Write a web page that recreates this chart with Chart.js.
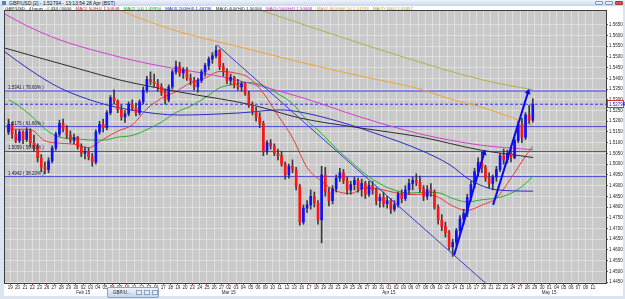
<!DOCTYPE html>
<html lang="en">

<head>
    <meta charset="UTF-8">
    <title>GBP/USD 4 hours</title>
    <script src="https://cdn.jsdelivr.net/npm/chart.js@4"></script>
    <style>
        html, body { margin: 0; padding: 0; }
        body { width: 625px; height: 299px; overflow: hidden; position: relative; background: #dbe5f1; font-family: "Liberation Sans", Arial, sans-serif; }
        #sheet { position: absolute; left: 4px; top: 6px; width: 619px; height: 290px; background: #fff; }
        #chart { position: absolute; left: 0; top: 0; }
        #titlebar { position: absolute; left: 0; top: 0; width: 625px; height: 6px; background: linear-gradient(#eef3fa, #c8d7ea); font-size: 5px; line-height: 6px; color: #1b1b1b; white-space: nowrap; }
        #titlebar .ico { display: inline-block; width: 4px; height: 4px; margin: 1px 3px 0 2px; background: #5b7fb8; vertical-align: top; }
        #titlebar .btn { position: absolute; top: 1px; width: 8px; height: 4px; border: 1px solid #8097b8; border-radius: 1px; background: #e9eff8; box-sizing: border-box; }
        #legend { position: absolute; left: 4px; top: 6px; width: 619px; height: 5px; font-size: 4.4px; line-height: 5px; white-space: nowrap; overflow: hidden; color: #111; }
        #legend span { margin-left: 3px; }
        #tab { position: absolute; left: 107px; top: 287px; width: 52px; height: 11px; box-sizing: border-box; border: 1px solid #8da3c3; border-radius: 2px; background: linear-gradient(#eef3fa, #c6d5ea); font-size: 4.5px; line-height: 9px; color: #222; white-space: nowrap; }
        #tab .mini { position: absolute; top: 2px; width: 6px; height: 5px; border: 1px solid #8da3c3; background: #e6edf7; box-sizing: border-box; }
    </style>
</head>

<body>
    <div id="sheet"></div>
    <canvas id="chart" width="625" height="299"></canvas>
    <div id="titlebar"><span class="ico"></span>GBP/USD [2] - 1.52794 - 13:13:54 28 Apr (BST)
        <span class="btn" style="left:595px"></span>
        <span class="btn" style="left:605px"></span>
        <span class="btn" style="left:615px;background:#d9534f;border-color:#a33"></span>
    </div>
    <div id="legend">&nbsp;GBP/USD , 4 hours : # 434 / 6000
        <span style="color:#e02020">MA(1) 50(H4) 1.50848</span>
        <span style="color:#1f9f1f">MA(2) 100 1.49950</span>
        <span style="color:#2020c0">MA(3) 200(H4) 1.48736</span>
        <span style="color:#303030">MA(4) 400(H4) 1.50306</span>
        <span style="color:#c030c0">MA(5) 500(H4) 1.50668</span>
        <span style="color:#e89a20">MA(6) 800(H4) 10 1.51793</span>
        <span style="color:#a0a030">MA(7) 1600 1.53457</span>
    </div>
    <div id="tab">&nbsp;&nbsp;&nbsp;&nbsp;GBP/U...
        <span class="mini" style="left:28px"></span>
        <span class="mini" style="left:36px"></span>
        <span class="mini" style="left:44px"></span>
    </div>

    <script>
        // Axis labels
        const dayLabels = [
            '19', '20', '21', '22', '23', '26', '27', '28', '29', '30',
            '02', '03', '04', '05', '06', '09', '10', '11', '12', '13', '16', '17', '18', '19', '20', '23', '24', '25', '26', '27',
            '02', '03', '04', '05', '06', '09', '10', '11', '12', '13', '16', '17', '18', '19', '20', '23', '24', '25', '26', '27', '30', '31',
            '01', '02', '03', '06', '07', '08', '09', '10', '13', '14', '15', '16', '17', '20', '21', '22', '23', '24', '27', '28', '29', '30',
            '01', '04', '05', '06', '07', '08', '11'
        ];
        const monthNames = ['Feb 15', 'Mar 15', 'Apr 15', 'May 15'];
        const monthStarts = [10, 30, 52, 74];
        const priceTicks = [
            1.445, 1.450, 1.455, 1.460, 1.465, 1.470, 1.475, 1.480, 1.485, 1.490, 1.495, 1.500, 1.505,
            1.510, 1.515, 1.520, 1.525, 1.530, 1.535, 1.540, 1.545, 1.550, 1.555, 1.560, 1.565
        ];

        // Visible window (trading days, 0 = Mon 19 Jan) and price range
        const viewFirstDay = -0.73;
        const viewLastDay = 81.8;
        const priceLow = 1.4446;
        const priceHigh = 1.5714;

        // Candles, two per trading day, first one is the Fri 16 Jan afternoon
        const firstBar = -0.25;
        const opens = [
            1.5150, 1.5185, 1.5140, 1.5110, 1.5150, 1.5115, 1.5155, 1.5100, 1.5080, 1.5030, 1.4985, 1.4975, 1.5015,
            1.5075, 1.5140, 1.5190, 1.5165, 1.5135, 1.5110, 1.5125, 1.5080, 1.5050, 1.5060, 1.5035, 1.5010,
            1.5150, 1.5185, 1.5170, 1.5240, 1.5310, 1.5295, 1.5255, 1.5220, 1.5235, 1.5280, 1.5260, 1.5240,
            1.5290, 1.5345, 1.5395, 1.5385, 1.5375, 1.5360, 1.5335, 1.5300, 1.5360, 1.5430, 1.5455, 1.5425,
            1.5440, 1.5400, 1.5390, 1.5360, 1.5390, 1.5430, 1.5460, 1.5490, 1.5505, 1.5530, 1.5455, 1.5430,
            1.5390, 1.5405, 1.5370, 1.5360, 1.5375, 1.5330, 1.5275, 1.5245, 1.5220, 1.5190, 1.5060, 1.5100,
            1.5085, 1.5050, 1.5040, 1.5000, 1.4950, 1.4990, 1.4975, 1.4895, 1.4730, 1.4795, 1.4810, 1.4850,
            1.4820, 1.4740, 1.4950, 1.4870, 1.4830, 1.4885, 1.4935, 1.4960, 1.4925, 1.4880, 1.4905, 1.4925,
            1.4885, 1.4910, 1.4860, 1.4900, 1.4880, 1.4830, 1.4845, 1.4815, 1.4830, 1.4790, 1.4810, 1.4860,
            1.4840, 1.4880, 1.4910, 1.4925, 1.4915, 1.4885, 1.4850, 1.4880, 1.4870, 1.4800, 1.4740, 1.4710,
            1.4680, 1.4615, 1.4635, 1.4690, 1.4745, 1.4770, 1.4845, 1.4905, 1.4965, 1.5010, 1.4985, 1.4935,
            1.4910, 1.4940, 1.4975, 1.5040, 1.5020, 1.5050, 1.5030, 1.5110, 1.5185, 1.5125, 1.5230, 1.5205
        ];
        const highs = [
            1.5210, 1.5195, 1.5160, 1.5160, 1.5155, 1.5170, 1.5165, 1.5135, 1.5095, 1.5045, 1.5010, 1.5030, 1.5085,
            1.5150, 1.5205, 1.5210, 1.5180, 1.5155, 1.5140, 1.5130, 1.5095, 1.5080, 1.5075, 1.5050, 1.5160,
            1.5200, 1.5210, 1.5250, 1.5320, 1.5346, 1.5300, 1.5275, 1.5250, 1.5290, 1.5300, 1.5285, 1.5300,
            1.5360, 1.5410, 1.5430, 1.5420, 1.5395, 1.5375, 1.5350, 1.5370, 1.5440, 1.5480, 1.5475, 1.5450,
            1.5450, 1.5420, 1.5405, 1.5400, 1.5440, 1.5470, 1.5500, 1.5520, 1.5552, 1.5535, 1.5470, 1.5445,
            1.5420, 1.5410, 1.5395, 1.5385, 1.5380, 1.5340, 1.5290, 1.5265, 1.5240, 1.5200, 1.5110, 1.5115,
            1.5095, 1.5070, 1.5060, 1.5010, 1.5000, 1.5020, 1.4985, 1.4905, 1.4810, 1.4830, 1.4880, 1.4870,
            1.4830, 1.4990, 1.4985, 1.4890, 1.4900, 1.4950, 1.4980, 1.4975, 1.4940, 1.4920, 1.4940, 1.4935,
            1.4930, 1.4920, 1.4920, 1.4920, 1.4890, 1.4860, 1.4870, 1.4850, 1.4840, 1.4830, 1.4870, 1.4880,
            1.4900, 1.4930, 1.4940, 1.4955, 1.4945, 1.4900, 1.4900, 1.4910, 1.4880, 1.4810, 1.4765, 1.4730,
            1.4690, 1.4650, 1.4700, 1.4760, 1.4790, 1.4860, 1.4920, 1.4980, 1.5030, 1.5055, 1.4995, 1.4960,
            1.4950, 1.4990, 1.5050, 1.5070, 1.5065, 1.5080, 1.5120, 1.5200, 1.5215, 1.5240, 1.5275, 1.5305
        ];
        const lows = [
            1.5138, 1.5120, 1.5100, 1.5100, 1.5095, 1.5105, 1.5080, 1.5060, 1.5010, 1.4965, 1.4955, 1.4960, 1.5005,
            1.5065, 1.5130, 1.5150, 1.5120, 1.5100, 1.5095, 1.5070, 1.5035, 1.5025, 1.5020, 1.4990, 1.5000,
            1.5140, 1.5150, 1.5160, 1.5230, 1.5280, 1.5240, 1.5205, 1.5195, 1.5225, 1.5250, 1.5225, 1.5230,
            1.5280, 1.5335, 1.5370, 1.5360, 1.5340, 1.5320, 1.5280, 1.5290, 1.5350, 1.5420, 1.5410, 1.5400,
            1.5390, 1.5370, 1.5345, 1.5336, 1.5380, 1.5410, 1.5440, 1.5470, 1.5495, 1.5440, 1.5410, 1.5375,
            1.5370, 1.5355, 1.5345, 1.5340, 1.5320, 1.5265, 1.5230, 1.5200, 1.5170, 1.5040, 1.5045, 1.5070,
            1.5040, 1.5020, 1.4990, 1.4930, 1.4935, 1.4960, 1.4880, 1.4715, 1.4720, 1.4775, 1.4790, 1.4800,
            1.4720, 1.4633, 1.4850, 1.4805, 1.4815, 1.4870, 1.4920, 1.4910, 1.4860, 1.4860, 1.4880, 1.4870,
            1.4850, 1.4840, 1.4850, 1.4860, 1.4810, 1.4800, 1.4800, 1.4795, 1.4770, 1.4780, 1.4800, 1.4820,
            1.4830, 1.4860, 1.4880, 1.4900, 1.4870, 1.4830, 1.4835, 1.4850, 1.4790, 1.4720, 1.4690, 1.4660,
            1.4600, 1.4570, 1.4620, 1.4675, 1.4720, 1.4755, 1.4830, 1.4890, 1.4945, 1.4960, 1.4920, 1.4890,
            1.4880, 1.4920, 1.4965, 1.5000, 1.5005, 1.5010, 1.5025, 1.5100, 1.5100, 1.5115, 1.5190, 1.5195
        ];
        const closes = [
            1.5185, 1.5140, 1.5110, 1.5150, 1.5115, 1.5155, 1.5100, 1.5080, 1.5030, 1.4985, 1.4975, 1.5015, 1.5075,
            1.5140, 1.5190, 1.5165, 1.5135, 1.5110, 1.5125, 1.5080, 1.5050, 1.5060, 1.5035, 1.5010, 1.5150,
            1.5185, 1.5170, 1.5240, 1.5310, 1.5295, 1.5255, 1.5220, 1.5235, 1.5280, 1.5260, 1.5240, 1.5290,
            1.5345, 1.5395, 1.5385, 1.5375, 1.5360, 1.5335, 1.5300, 1.5360, 1.5430, 1.5455, 1.5425, 1.5440,
            1.5400, 1.5390, 1.5360, 1.5390, 1.5430, 1.5460, 1.5490, 1.5505, 1.5530, 1.5455, 1.5430, 1.5390,
            1.5405, 1.5370, 1.5360, 1.5375, 1.5330, 1.5275, 1.5245, 1.5220, 1.5190, 1.5060, 1.5100, 1.5085,
            1.5050, 1.5040, 1.5000, 1.4950, 1.4990, 1.4975, 1.4895, 1.4730, 1.4795, 1.4810, 1.4850, 1.4820,
            1.4740, 1.4950, 1.4870, 1.4830, 1.4885, 1.4935, 1.4960, 1.4925, 1.4880, 1.4905, 1.4925, 1.4885,
            1.4910, 1.4860, 1.4900, 1.4880, 1.4830, 1.4845, 1.4815, 1.4830, 1.4790, 1.4810, 1.4860, 1.4840,
            1.4880, 1.4910, 1.4925, 1.4915, 1.4885, 1.4850, 1.4880, 1.4870, 1.4800, 1.4740, 1.4710, 1.4680,
            1.4615, 1.4635, 1.4690, 1.4745, 1.4770, 1.4845, 1.4905, 1.4965, 1.5010, 1.4985, 1.4935, 1.4910,
            1.4940, 1.4975, 1.5040, 1.5020, 1.5050, 1.5030, 1.5110, 1.5185, 1.5125, 1.5230, 1.5205, 1.52794
        ];
        const lastPrice = 1.52794;

        // Moving averages [day, price]
        const maRed = [
            [-0.25, 1.5165], [0.75, 1.5163], [2.75, 1.5161], [4.75, 1.5109], [6.75, 1.5098], [8.75, 1.5093],
            [10.75, 1.5077], [12.75, 1.5116], [14.75, 1.5154], [16.75, 1.5183], [18.75, 1.5258], [20.75, 1.5307],
            [22.75, 1.5338], [24.75, 1.5380], [26.75, 1.5401], [28.75, 1.5432], [30.75, 1.5426], [32.75, 1.5403],
            [34.75, 1.5331], [36.75, 1.5227], [38.75, 1.5123], [40.75, 1.4984], [42.75, 1.4920], [44.75, 1.4875],
            [46.75, 1.4863], [48.75, 1.4889], [50.75, 1.4883], [52.75, 1.4868], [54.75, 1.4858], [56.75, 1.4860],
            [58.75, 1.4846], [60.75, 1.4805], [62.75, 1.4785], [64.75, 1.4809], [66.75, 1.4843], [68.75, 1.4934],
            [70.75, 1.5038], [71.75, 1.5082]
        ];
        const maGreen = [
            [-0.25, 1.5300], [0.75, 1.5281], [2.75, 1.5229], [4.75, 1.5164], [6.75, 1.5126], [8.75, 1.5119],
            [10.75, 1.5113], [12.75, 1.5112], [14.75, 1.5126], [16.75, 1.5134], [18.75, 1.5161], [20.75, 1.5196],
            [22.75, 1.5241], [24.75, 1.5270], [26.75, 1.5310], [28.75, 1.5356], [30.75, 1.5372], [32.75, 1.5381],
            [34.75, 1.5366], [36.75, 1.5328], [38.75, 1.5282], [40.75, 1.5203], [42.75, 1.5143], [44.75, 1.5073],
            [46.75, 1.5013], [48.75, 1.4954], [50.75, 1.4909], [52.75, 1.4879], [54.75, 1.4865], [56.75, 1.4869],
            [58.75, 1.4867], [60.75, 1.4840], [62.75, 1.4824], [64.75, 1.4834], [66.75, 1.4842], [68.75, 1.4864],
            [70.75, 1.4909], [71.75, 1.4945]
        ];
        const maBlue = [
            [-0.73, 1.5523], [2.71, 1.5439], [6.83, 1.5355], [12.32, 1.5285], [16.44, 1.5253], [23.31, 1.5229],
            [31.55, 1.5239], [37.05, 1.5253], [39.79, 1.5243], [45.29, 1.5197], [50.78, 1.5136], [56.28, 1.5066],
            [60.4, 1.4996], [63.15, 1.4926], [66.85, 1.4880], [71.8, 1.4874]
        ];
        const maBlack = [
            [-0.73, 1.5541], [4.08, 1.5495], [9.99, 1.5439], [15.07, 1.5392], [23.31, 1.5336], [33.2, 1.5276],
            [39.79, 1.5215], [48.04, 1.5169], [56.28, 1.5127], [64.52, 1.5066], [71.8, 1.5031]
        ];
        const maMagenta = [
            [-0.73, 1.5700], [2.02, 1.5649], [6.83, 1.5579], [12.32, 1.5523], [19.19, 1.5467], [29.22, 1.5406],
            [39.79, 1.5313], [48.04, 1.5220], [56.28, 1.5141], [64.52, 1.5089], [71.8, 1.5067]
        ];
        const maOrange = [
            [13.5, 1.5745], [15.07, 1.5718], [19.19, 1.5663], [23.31, 1.5616], [31.55, 1.5546], [39.79, 1.5476],
            [48.04, 1.5411], [56.28, 1.5350], [59.99, 1.5308], [65.89, 1.5253], [71.8, 1.5179]
        ];
        const maOlive = [
            [31.5, 1.5750], [34.7, 1.5714], [42.54, 1.5625], [53.53, 1.5504], [64.93, 1.5392], [71.8, 1.5346]
        ];

        // Fibonacci retracement of the Feb high / Apr low swing
        const fibRatios = [78.6, 61.8, 50.0, 38.2];
        const fibLevels = [1.5341, 1.5175, 1.5059, 1.4942];

        // Drawn lines [day, price]
        const trendFromTop = [[28.4, 1.5555], [66.0, 1.4423]];
        const arrowOne = [[60.95, 1.4577], [65.07, 1.5052]];
        const arrowTwo = [[66.3, 1.4810], [71.1, 1.5336]];

        // Build datasets
        const toPoints = pairs => pairs.map(([x, y]) => ({ x: x, y: y }));
        const candleX = opens.map((o, i) => firstBar + i * 0.5);
        const bodies = opens.map((o, i) => ({ x: candleX[i], y: [o, closes[i]] }));
        const wicks = opens.map((o, i) => ({ x: candleX[i], y: [lows[i], highs[i]] }));

        function maLine(pairs, color) {
            return {
                type: 'line', data: toPoints(pairs), borderColor: color, borderWidth: 1,
                pointRadius: 0, cubicInterpolationMode: 'monotone', order: 40
            };
        }

        function arrowAngle(ctx) {
            const pts = ctx.dataset.data;
            const sx = ctx.chart.scales.x;
            const sy = ctx.chart.scales.y;
            const dx = sx.getPixelForValue(pts[1].x) - sx.getPixelForValue(pts[0].x);
            const dy = sy.getPixelForValue(pts[1].y) - sy.getPixelForValue(pts[0].y);
            return Math.atan2(dx, -dy) * 180 / Math.PI;
        }

        function arrowLine(pairs) {
            return {
                type: 'line', data: toPoints(pairs), borderColor: '#0a0aee', backgroundColor: '#0a0aee',
                borderWidth: 2, pointStyle: 'triangle', pointRadius: ctx => ctx.dataIndex === 1 ? 3.5 : 0,
                pointRotation: arrowAngle, pointBorderWidth: 0, order: 0
            };
        }

        const fibSets = fibLevels.map((lvl, i) => ({
            type: 'line',
            data: [{ x: viewFirstDay, y: lvl }, { x: viewLastDay, y: lvl }],
            borderColor: i === 0 ? '#8585dc' : '#4c4cd8',
            borderWidth: i === 0 ? 2 : 1,
            pointRadius: 0, order: 50
        }));

        // Chart background, frame, fib captions and last price box
        const chartDecor = {
            id: 'chartDecor',
            beforeDraw(chart) {
                const { ctx, chartArea: a } = chart;
                ctx.save();
                ctx.fillStyle = '#c9c9c9';
                ctx.fillRect(a.left, a.top, a.right - a.left, a.bottom - a.top);
                ctx.restore();
            },
            afterDatasetsDraw(chart) {
                const { ctx, chartArea: a, scales } = chart;
                ctx.save();
                ctx.font = '4.5px "Liberation Sans", Arial, sans-serif';
                ctx.fillStyle = '#15153a';
                ctx.textBaseline = 'bottom';
                fibLevels.forEach((lvl, i) => {
                    const y = scales.y.getPixelForValue(lvl);
                    ctx.fillText(lvl.toFixed(4) + ' ( ' + fibRatios[i].toFixed(2) + '% )', a.left + 3, y - 1);
                });
                ctx.strokeStyle = '#3c3c3c';
                ctx.lineWidth = 1;
                ctx.strokeRect(a.left - 0.5, a.top - 0.5, a.right - a.left + 1, a.bottom - a.top + 1);
                ctx.restore();
            },
            afterDraw(chart) {
                const { ctx, chartArea: a, scales } = chart;
                const y = Math.round(scales.y.getPixelForValue(lastPrice));
                ctx.save();
                ctx.fillStyle = '#ffffff';
                ctx.fillRect(a.right + 2, y - 3, 16, 6);
                ctx.strokeStyle = '#e03030';
                ctx.lineWidth = 1;
                ctx.strokeRect(a.right + 1.5, y - 3.5, 16, 7);
                ctx.font = '4.5px "Liberation Sans", Arial, sans-serif';
                ctx.fillStyle = '#1515c8';
                ctx.textBaseline = 'middle';
                ctx.fillText(lastPrice.toFixed(5), a.right + 3, y + 0.5);
                ctx.restore();
            }
        };

        Chart.defaults.font.family = '"Liberation Sans", Arial, sans-serif';

        new Chart(document.getElementById('chart'), {
            type: 'bar',
            data: {
                datasets: [
                    ...fibSets,
                    {
                        type: 'line',
                        data: [{ x: viewFirstDay, y: lastPrice }, { x: viewLastDay, y: lastPrice }],
                        borderColor: '#3434d8', borderWidth: 1, borderDash: [3, 2], pointRadius: 0, order: 49
                    },
                    maLine(maOlive, '#b3b048'),
                    maLine(maOrange, '#f0a43a'),
                    maLine(maMagenta, '#d040cc'),
                    maLine(maBlack, '#2e2e2e'),
                    maLine(maBlue, '#2c2cc4'),
                    maLine(maGreen, '#28b028'),
                    maLine(maRed, '#e83c3c'),
                    {
                        data: wicks, backgroundColor: '#3a3a3a', barThickness: 1,
                        grouped: false, minBarLength: 1, order: 30
                    },
                    {
                        data: bodies, barThickness: 2, grouped: false, minBarLength: 1, order: 20,
                        backgroundColor: ctx => closes[ctx.dataIndex] >= opens[ctx.dataIndex] ? '#1010ff' : '#ff1414'
                    },
                    {
                        type: 'line', data: toPoints(trendFromTop), borderColor: '#3a3ad0',
                        borderWidth: 1, pointRadius: 0, order: 5
                    },
                    arrowLine(arrowOne),
                    arrowLine(arrowTwo)
                ]
            },
            options: {
                responsive: false,
                devicePixelRatio: 1,
                animation: false,
                events: [],
                layout: { padding: { left: 5, top: 11, right: 2, bottom: 3 } },
                plugins: { legend: { display: false }, tooltip: { enabled: false } },
                scales: {
                    x: {
                        type: 'linear', min: viewFirstDay, max: viewLastDay, offset: false,
                        afterBuildTicks: s => { s.ticks = dayLabels.map((d, i) => ({ value: i })); },
                        afterFit: s => { s.height = 13; },
                        grid: { color: 'rgba(238,238,238,0.55)', offset: false, tickLength: 2, tickColor: '#b03a3a' },
                        border: { display: true, color: '#3c3c3c' },
                        ticks: {
                            autoSkip: false, maxRotation: 0, padding: 0, color: '#1e1e1e',
                            font: { size: 4.5 },
                            callback: v => {
                                const m = monthStarts.indexOf(v);
                                return m >= 0 ? [dayLabels[v], monthNames[m]] : dayLabels[v];
                            }
                        }
                    },
                    y: {
                        position: 'right', min: priceLow, max: priceHigh, beginAtZero: false,
                        afterBuildTicks: s => { s.ticks = priceTicks.map(v => ({ value: v })); },
                        afterFit: s => { s.width = 17; },
                        grid: { color: 'rgba(238,238,238,0.55)', tickLength: 2, tickColor: '#c03030' },
                        border: { display: true, color: '#3c3c3c' },
                        ticks: { padding: 1, color: '#1e1e1e', font: { size: 4.5 }, callback: v => v.toFixed(5) }
                    }
                }
            },
            plugins: [chartDecor]
        });
    </script>
</body>

</html>
